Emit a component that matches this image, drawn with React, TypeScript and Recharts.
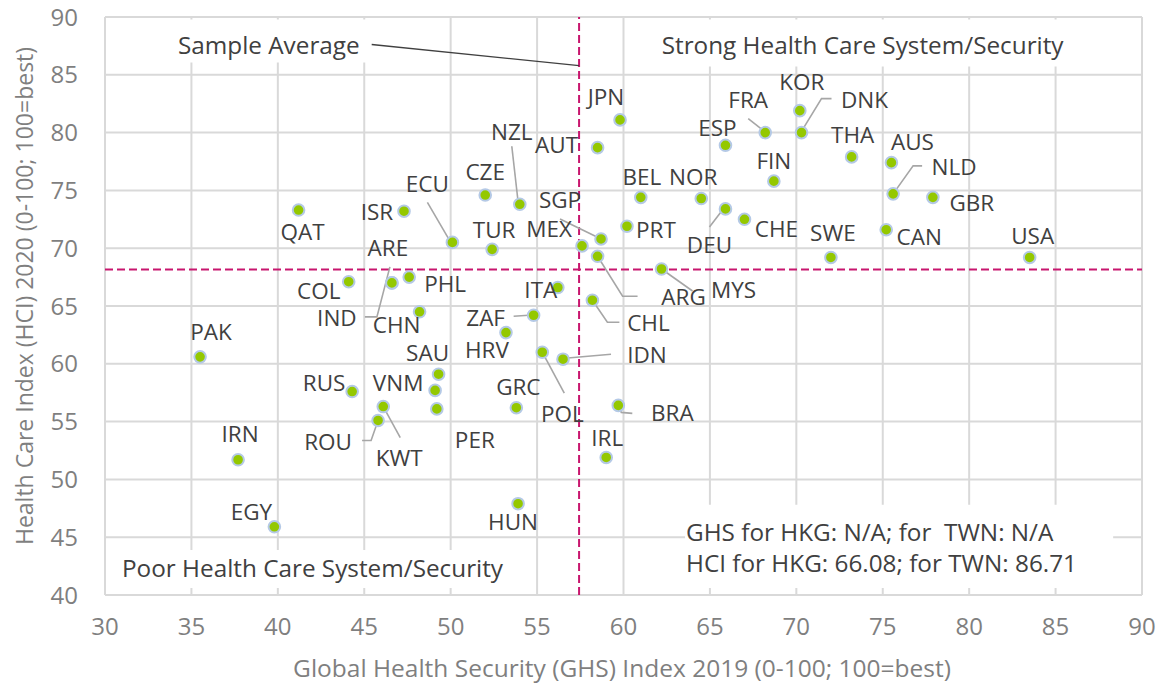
import React from 'react';
import { ScatterChart, Scatter, XAxis, YAxis, CartesianGrid, ReferenceLine, ReferenceArea } from 'recharts';

const countries = ['PAK','IRN','EGY','RUS','ROU','KWT','COL','QAT','ISR','ARE','IND','CHN','PHL','SAU','VNM','PER','ECU','CZE','NZL','TUR','MEX','SGP','ARG','MYS','CHL','ITA','ZAF','HRV','POL','IDN','GRC','BRA','IRL','HUN','JPN','AUT','BEL','PRT','NOR','DEU','ESP','CHE','FRA','FIN','KOR','DNK','THA','AUS','NLD','GBR','CAN','SWE','USA'];
const ghsIndex = [35.5,37.7,39.8,44.3,45.8,46.1,44.1,41.2,47.3,46.6,46.6,48.2,47.6,49.3,49.1,49.2,50.1,52.0,54.0,52.4,57.6,58.7,58.5,62.2,58.2,56.2,54.8,53.2,55.3,56.5,53.8,59.7,59.0,53.9,59.8,58.5,61.0,60.2,64.5,65.9,65.9,67.0,68.2,68.7,70.2,70.3,73.2,75.5,75.6,77.9,75.2,72.0,83.5];
const hciIndex = [60.6,51.7,45.9,57.6,55.1,56.3,67.1,73.3,73.2,67.0,67.0,64.5,67.5,59.1,57.7,56.1,70.5,74.6,73.8,69.9,70.2,70.8,69.3,68.2,65.5,66.6,64.2,62.7,61.0,60.4,56.2,56.4,51.9,47.9,81.1,78.7,74.4,71.9,74.3,73.4,78.9,72.5,80.0,75.8,81.9,80.0,77.9,77.4,74.7,74.4,71.6,69.2,69.2];
const xTicks = [30,35,40,45,50,55,60,65,70,75,80,85,90];
const yTicks = [40,45,50,55,60,65,70,75,80,85,90];
const sampleAverageGHS = 57.43;
const sampleAverageHCI = 68.15;

const data = countries.map((c, i) => ({ code: c, x: ghsIndex[i], y: hciIndex[i] }));

// label layout (pixel offsets from the point)
type Place = { dx: number; dy: number; leader?: number[][] };
const placement: Record<string, Place> = {
  PAK: { dx: 11, dy: -25 }, IRN: { dx: 2, dy: -26 }, EGY: { dx: -23, dy: -15 },
  RUS: { dx: -28, dy: -9 },
  ROU: { dx: -50, dy: 21, leader: [[0,0],[-7,20],[-16,20]] },
  KWT: { dx: 16, dy: 51, leader: [[0,0],[17,31]] },
  COL: { dx: -30, dy: 9 }, QAT: { dx: 4, dy: 21 }, ISR: { dx: -27, dy: 0 },
  ARE: { dx: -4, dy: -35 },
  IND: { dx: -55, dy: 35, leader: [[-2,-16],[-15,34],[-27,34]] },
  CHN: { dx: -23, dy: 13 }, PHL: { dx: 36, dy: 6 },
  SAU: { dx: -11, dy: -22 }, VNM: { dx: -37, dy: -8 }, PER: { dx: 38, dy: 31 },
  ECU: { dx: -25, dy: -59, leader: [[-25,-40],[-4,-4]] },
  CZE: { dx: 0, dy: -24 },
  NZL: { dx: -8, dy: -73, leader: [[-8,-58],[-2,-5]] },
  TUR: { dx: 2, dy: -20 }, MEX: { dx: -33, dy: -17 },
  SGP: { dx: -41, dy: -39, leader: [[-41,-20],[-4,-2]] },
  ARG: { dx: 86, dy: 40, leader: [[0,0],[25,40],[40,40]] },
  MYS: { dx: 72, dy: 20, leader: [[0,0],[31,22]] },
  CHL: { dx: 56, dy: 22, leader: [[0,0],[15,22],[27,22]] },
  ITA: { dx: -17, dy: 2 },
  ZAF: { dx: -48, dy: 2, leader: [[-20,1],[-5,0]] },
  HRV: { dx: -19, dy: 17 },
  POL: { dx: 20, dy: 61, leader: [[0,0],[22,41]] },
  IDN: { dx: 84, dy: -5, leader: [[2,-1],[48,-5]] },
  GRC: { dx: 2, dy: -21 },
  BRA: { dx: 54, dy: 7, leader: [[0,0],[3,7],[14,8]] },
  IRL: { dx: 1, dy: -20 }, HUN: { dx: -5, dy: 18 },
  JPN: { dx: -14, dy: -23 }, AUT: { dx: -41, dy: -3 }, BEL: { dx: 1, dy: -21 },
  PRT: { dx: 29, dy: 3 }, NOR: { dx: -8, dy: -22 },
  DEU: { dx: -16, dy: 36, leader: [[-16,18],[-3,1]] },
  ESP: { dx: -8, dy: -18 }, CHE: { dx: 32, dy: 9 },
  FRA: { dx: -17, dy: -33, leader: [[-17,-14],[-3,-3]] },
  FIN: { dx: 0, dy: -21 }, KOR: { dx: 2, dy: -29 },
  DNK: { dx: 63, dy: -33, leader: [[1,-3],[20,-34],[30,-34]] },
  THA: { dx: 1, dy: -22 }, AUS: { dx: 21, dy: -21 },
  NLD: { dx: 61, dy: -27, leader: [[0,0],[20,-28],[29,-28]] },
  GBR: { dx: 39, dy: 5 }, CAN: { dx: 33, dy: 7 }, SWE: { dx: 2, dy: -25 }, USA: { dx: 3, dy: -22 },
};

const FONT = "'Open Sans', sans-serif";
const TEXT = '#404040';
const GRAY = '#7f7f7f';

const LeaderShape = (props: any) => {
  const { cx, cy, payload } = props;
  const p = placement[payload.code];
  if (!p || !p.leader) return <g />;
  const pts = p.leader.map(([a, b]) => `${cx + a},${cy + b}`).join(' ');
  return <polyline points={pts} fill="none" stroke="#a6a6a6" strokeWidth={1.6} />;
};

const PointShape = (props: any) => {
  const { cx, cy, payload } = props;
  const p = placement[payload.code] || { dx: 0, dy: -20 };
  return (
    <g>
      <circle cx={cx} cy={cy} r={5.8} fill="#94C800" stroke="#b4c9e6" strokeWidth={2} />
      <text x={cx + p.dx} y={cy + p.dy} textAnchor="middle" dominantBaseline="central"
        fontFamily={FONT} fontSize={22.5} fill={TEXT}>{payload.code}</text>
    </g>
  );
};

const boxLabel = (lines: string[], dx: number, dys: number[], anchor: 'start' | 'middle' = 'start') => (props: any) => {
  const vb = props.viewBox || { x: 0, y: 0, width: 0, height: 0 };
  const x = anchor === 'middle' ? vb.x + vb.width / 2 + dx : vb.x + dx;
  return (
    <g>
      {lines.map((l, i) => (
        <text key={i} x={x} y={vb.y + dys[i]} textAnchor={anchor} dominantBaseline="central"
          fontFamily={FONT} fontSize={24.3} fill={TEXT} style={{ whiteSpace: 'pre' }}>{l}</text>
      ))}
    </g>
  );
};

export default function App() {
  return (
    <div style={{ position: 'absolute', left: 0, top: 0, width: 1173, height: 686, background: '#fff' }}>
      <ScatterChart width={1173} height={686} margin={{ top: 17, right: 31, bottom: 0, left: 0 }}>
        <CartesianGrid stroke="#d9d9d9" strokeWidth={2} />
        <XAxis type="number" dataKey="x" domain={[30, 90]} ticks={xTicks} height={91}
          axisLine={false} tickLine={false} tickSize={0} tickMargin={23}
          tick={{ fontFamily: FONT, fontSize: 24, fill: GRAY }}
          label={{ content: () => (
            <text x={622} y={667} textAnchor="middle" dominantBaseline="central" fontFamily={FONT} fontSize={24.5} fill={GRAY}>
              Global Health Security (GHS) Index 2019 (0-100; 100=best)
            </text>
          ) }} />
        <YAxis type="number" dataKey="y" domain={[40, 90]} ticks={yTicks} width={105}
          axisLine={false} tickLine={false} tickSize={0} tickMargin={27}
          tick={{ fontFamily: FONT, fontSize: 24, fill: GRAY }}
          label={{ content: () => (
            <text x={24} y={296} transform="rotate(-90 24 296)" textAnchor="middle" dominantBaseline="central" fontFamily={FONT} fontSize={23} fill={GRAY}>
              Health Care Index (HCI) 2020 (0-100; 100=best)
            </text>
          ) }} />
        <ReferenceArea x1={33.47} x2={45.34} y1={86.06} y2={89.78} fill="#fff" fillOpacity={1} stroke="none"
          label={{ content: boxLabel(['Sample Average'], 13, [25]) }} />
        <ReferenceArea x1={61.25} x2={86.42} y1={85.71} y2={89.78} fill="#fff" fillOpacity={1} stroke="none"
          label={{ content: boxLabel(['Strong Health Care System/Security'], 0, [25], 'middle') }} />
        <ReferenceArea x1={30.29} x2={54.88} y1={40.6} y2={43.9} fill="#fff" fillOpacity={1} stroke="none"
          label={{ content: boxLabel(['Poor Health Care System/Security'], 12, [18]) }} />
        <ReferenceArea x1={63.56} x2={88.33} y1={40.6} y2={47.8} fill="#fff" fillOpacity={1} stroke="none"
          label={{ content: boxLabel(['GHS for HKG: N/A; for  TWN: N/A', 'HCI for HKG: 66.08; for TWN: 86.71'], 1, [27, 58]) }} />
        <ReferenceLine x={sampleAverageGHS} stroke="#C8166E" strokeWidth={2} strokeDasharray="8 4" />
        <ReferenceLine y={sampleAverageHCI} stroke="#C8166E" strokeWidth={2} strokeDasharray="8 4" />
        <ReferenceLine segment={[{ x: 45.43, y: 87.62 }, { x: sampleAverageGHS, y: 85.8 }]} stroke="#404040" strokeWidth={1.3} />
        <Scatter data={data} isAnimationActive={false} shape={LeaderShape} />
        <Scatter data={data} isAnimationActive={false} shape={PointShape} />
      </ScatterChart>
    </div>
  );
}
